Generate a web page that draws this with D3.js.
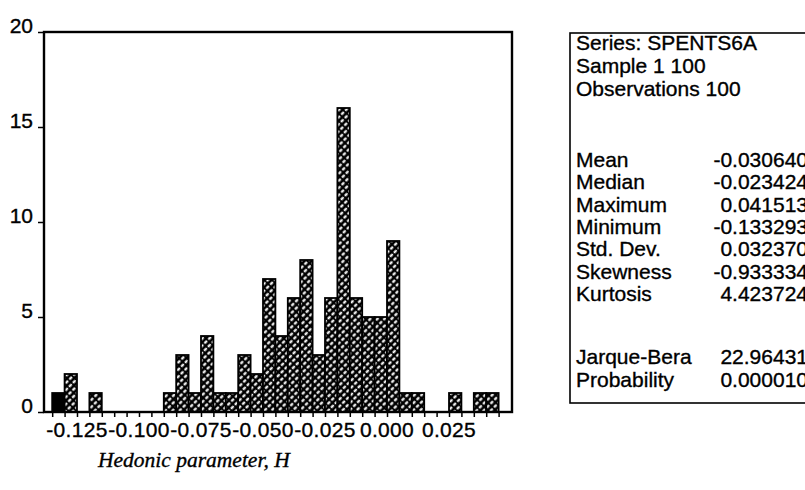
<!DOCTYPE html>
<html>
<head>
<meta charset="utf-8">
<script src="https://cdn.jsdelivr.net/npm/d3@7"></script>
<style>
  html, body { margin: 0; padding: 0; background: #fff; }
  svg { display: block; }
  text.sans { font-family: "Liberation Sans", Arial, sans-serif; fill: #000; stroke: #000; stroke-width: 0.35px; }
  text.title { font-family: "Liberation Serif", "Times New Roman", serif; font-style: italic; fill: #000; stroke: #000; stroke-width: 0.35px; }
</style>
</head>
<body>
<svg id="chart" width="805" height="490"></svg>
<script>
// ---- data ----
const binStart = -0.135;
const binWidth = 0.005;
const counts = [1,2,0,1,0,0,0,0,0,1,3,1,4,1,1,3,2,7,4,6,8,3,6,16,6,5,5,9,1,1,0,0,1,0,1,1];
const xTickLabels = [-0.125, -0.100, -0.075, -0.050, -0.025, 0.000, 0.025];
const yTickLabels = [0, 5, 10, 15, 20];
const xTitle = "Hedonic parameter, H";
const headerLines = ["Series: SPENTS6A", "Sample 1 100", "Observations 100"];
const statNames = ["Mean", "Median", "Maximum", "Minimum", "Std. Dev.", "Skewness", "Kurtosis"];
const statValues = ["-0.030640", "-0.023424", "0.041513", "-0.133293", "0.032370", "-0.933334", "4.423724"];
const testNames = ["Jarque-Bera", "Probability"];
const testValues = ["22.96431", "0.000010"];

// ---- layout ----
const svg = d3.select("#chart");
const plot = { left: 44, right: 512, top: 32, bottom: 412 };
const x = d3.scaleLinear().domain([-0.1383, 0.0504]).range([plot.left, plot.right]);
const y = d3.scaleLinear().domain([0, 20]).range([plot.bottom, plot.top]);

// hatch pattern
const defs = svg.append("defs");
const pat = defs.append("pattern")
  .attr("id", "hatch").attr("patternUnits", "userSpaceOnUse")
  .attr("width", 5.5).attr("height", 5)
  .attr("patternTransform", "rotate(-45)");
pat.append("rect").attr("width", 5.5).attr("height", 5).attr("fill", "#000");
pat.append("rect").attr("x", 0.6).attr("y", 1.3).attr("width", 4.0).attr("height", 2.3)
  .attr("rx", 1.1).attr("fill", "#fff");

const bins = counts.map((c, i) => ({
  x0: binStart + i * binWidth,
  x1: binStart + (i + 1) * binWidth,
  count: c, i
}));

svg.append("g").selectAll("rect")
  .data(bins.filter(d => d.count > 0))
  .join("rect")
  .attr("x", d => x(d.x0))
  .attr("y", d => y(d.count))
  .attr("width", d => x(d.x1) - x(d.x0))
  .attr("height", d => y(0) - y(d.count))
  .attr("fill", d => d.i === 0 ? "#000" : "url(#hatch)")
  .attr("stroke", "#000")
  .attr("stroke-width", 1.8);

// frame
svg.append("rect")
  .attr("x", plot.left).attr("y", plot.top)
  .attr("width", plot.right - plot.left).attr("height", plot.bottom - plot.top)
  .attr("fill", "none").attr("stroke", "#000").attr("stroke-width", 2.4);

// x axis ticks
const xAxis = d3.axisBottom(x)
  .tickValues(d3.range(counts.length + 1).map(i => binStart + i * binWidth))
  .tickSize(5).tickFormat("");
svg.append("g").attr("transform", `translate(0,${plot.bottom})`).call(xAxis)
  .call(g => g.select(".domain").remove())
  .call(g => g.selectAll("line").attr("stroke-width", 1.5));

svg.append("g").selectAll("text")
  .data(xTickLabels).join("text")
  .attr("class", "sans")
  .attr("x", d => x(d))
  .attr("y", 437)
  .attr("text-anchor", "middle")
  .attr("font-size", 21)
  .attr("letter-spacing", 0.3)
  .text(d => d3.format(".3f")(d).replace("−", "-"));

// y axis
const yAxis = d3.axisLeft(y).tickValues(yTickLabels).tickSize(6).tickFormat("");
svg.append("g").attr("transform", `translate(${plot.left},0)`).call(yAxis)
  .call(g => g.select(".domain").remove())
  .call(g => g.selectAll("line").attr("stroke-width", 1.5));

svg.append("g").selectAll("text")
  .data(yTickLabels).join("text")
  .attr("class", "sans")
  .attr("x", 33)
  .attr("y", d => y(d) + 1)
  .attr("text-anchor", "end")
  .attr("font-size", 21)
  .text(d => d);

// x title
svg.append("text")
  .attr("class", "title")
  .attr("x", 98).attr("y", 467)
  .attr("font-size", 21.5)
  .text(xTitle);

// stats box
const box = svg.append("g");
box.append("rect")
  .attr("x", 570).attr("y", 33).attr("width", 260).attr("height", 370)
  .attr("fill", "none").attr("stroke", "#000").attr("stroke-width", 1.6);

box.selectAll("text.h").data(headerLines).join("text")
  .attr("class", "sans h")
  .attr("x", 576).attr("y", (d, i) => 50 + i * 23)
  .attr("font-size", 21)
  .text(d => d);

box.selectAll("text.n").data(statNames).join("text")
  .attr("class", "sans n")
  .attr("x", 576).attr("y", (d, i) => 167 + i * 22.3)
  .attr("font-size", 21)
  .text(d => d);

box.selectAll("text.v").data(statValues).join("text")
  .attr("class", "sans v")
  .attr("x", 808).attr("y", (d, i) => 167 + i * 22.3)
  .attr("text-anchor", "end")
  .attr("font-size", 21)
  .text(d => d);

box.selectAll("text.tn").data(testNames).join("text")
  .attr("class", "sans tn")
  .attr("x", 576).attr("y", (d, i) => 364 + i * 23)
  .attr("font-size", 21)
  .text(d => d);

box.selectAll("text.tv").data(testValues).join("text")
  .attr("class", "sans tv")
  .attr("x", 808).attr("y", (d, i) => 364 + i * 23)
  .attr("text-anchor", "end")
  .attr("font-size", 21)
  .text(d => d);
</script>
</body>
</html>
